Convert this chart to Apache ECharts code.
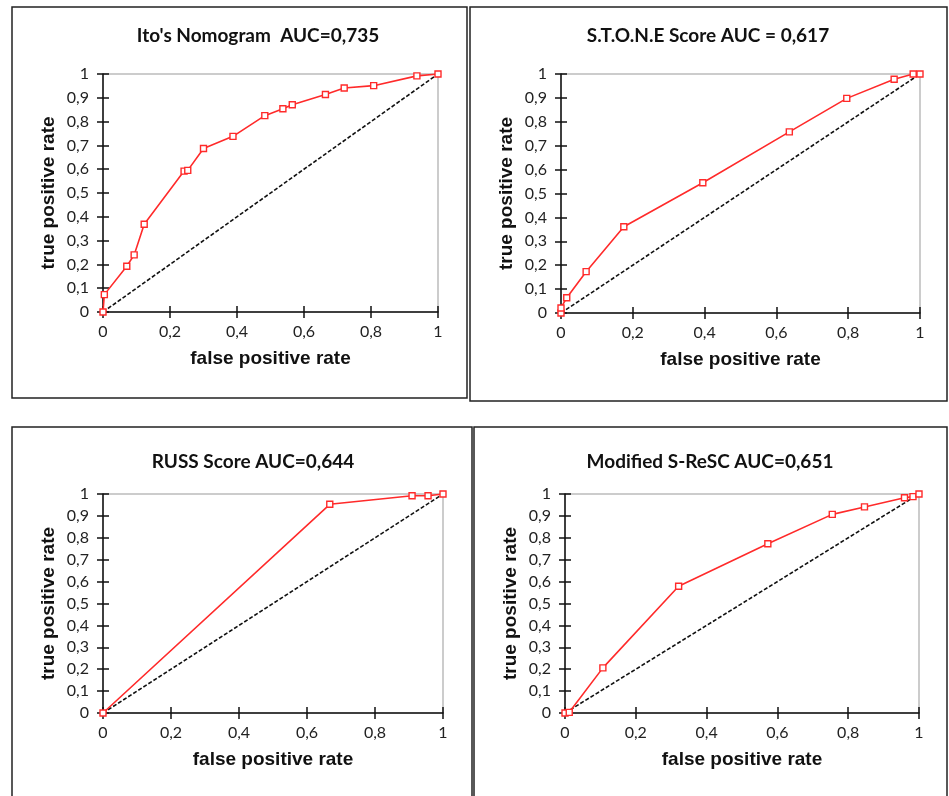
<!DOCTYPE html>
<html>
<head>
    <meta charset="utf-8">
    <title>ROC curves</title>
    <script src="https://cdnjs.cloudflare.com/ajax/libs/echarts/6.0.0/echarts.min.js"></script>
    <style>
        html, body { margin: 0; padding: 0; background: #fff; }
        #main { width: 949px; height: 796px; }
    </style>
</head>
<body>
    <div id="main"></div>
    <script type="text/javascript">
        // ROC points [false positive rate, true positive rate]
        var itoPoints = [[0, 0], [0.004, 0.073], [0.071, 0.192], [0.093, 0.240], [0.123, 0.369],
            [0.242, 0.592], [0.253, 0.595], [0.300, 0.687], [0.388, 0.738], [0.483, 0.825],
            [0.537, 0.854], [0.565, 0.871], [0.664, 0.914], [0.720, 0.941], [0.808, 0.951],
            [0.937, 0.992], [1, 1]];
        var stonePoints = [[0, 0], [0, 0.021], [0.016, 0.064], [0.070, 0.173], [0.175, 0.361],
            [0.395, 0.545], [0.636, 0.758], [0.796, 0.898], [0.928, 0.978], [0.981, 1], [1, 1]];
        var russPoints = [[0, 0], [0.667, 0.953], [0.909, 0.992], [0.956, 0.992], [1, 1]];
        var rescPoints = [[0, 0], [0.012, 0.003], [0.107, 0.206], [0.321, 0.579], [0.573, 0.773],
            [0.755, 0.907], [0.846, 0.941], [0.959, 0.983], [0.983, 0.988], [1, 1]];
        var diagonal = [[0, 0], [1, 1]];

        var titles = ["Ito's Nomogram  AUC=0,735", 'S.T.O.N.E Score AUC = 0,617',
            'RUSS Score AUC=0,644', 'Modified S-ReSC AUC=0,651'];
        var xName = 'false positive rate';
        var yName = 'true positive rate';

        var panels = [
            { data: itoPoints, grid: { left: 103, top: 74, width: 335, height: 238 }, box: [12, 7, 455, 391], title: [258, 36] },
            { data: stonePoints, grid: { left: 561, top: 74, width: 359, height: 239 }, box: [470, 7, 477, 394], title: [708, 36] },
            { data: russPoints, grid: { left: 103, top: 494, width: 340, height: 219 }, box: [12, 427, 460, 380], title: [253, 462] },
            { data: rescPoints, grid: { left: 565, top: 494, width: 354, height: 219 }, box: [474, 427, 473, 380], title: [710, 462] }
        ];

        function comma(v) {
            return String(+v.toFixed(1)).replace('.', ',');
        }

        var labelFont = { fontFamily: 'Lato', fontSize: 16, color: '#222' };
        var nameFont = { fontFamily: 'Liberation Sans', fontSize: 19, fontWeight: 'bold', color: '#111' };

        var grids = [], xAxes = [], yAxes = [], series = [], graphics = [];

        panels.forEach(function (p, i) {
            grids.push(Object.assign({ show: true, borderColor: '#999', borderWidth: 1 }, p.grid));

            // main axes (outer ticks + labels)
            xAxes.push({
                type: 'value', gridIndex: i, min: 0, max: 1, interval: 0.2,
                name: xName, nameLocation: 'middle', nameGap: 37, nameTextStyle: nameFont,
                axisLine: { lineStyle: { color: '#111', width: 1.5 } },
                axisTick: { length: 6, lineStyle: { color: '#111', width: 1.5 } },
                axisLabel: Object.assign({ margin: 12, formatter: comma }, labelFont),
                splitLine: { show: false }
            });
            yAxes.push({
                type: 'value', gridIndex: i, min: 0, max: 1, interval: 0.1,
                name: yName, nameLocation: 'middle', nameGap: 45, nameTextStyle: nameFont,
                axisLine: { lineStyle: { color: '#111', width: 1.5 } },
                axisTick: { length: 6, lineStyle: { color: '#111', width: 1.5 } },
                axisLabel: Object.assign({ margin: 14, formatter: comma }, labelFont),
                splitLine: { show: false }
            });
            series.push({
                type: 'line', xAxisIndex: i, yAxisIndex: i, data: diagonal,
                symbol: 'none', silent: true, z: 2,
                lineStyle: { color: '#111', width: 1.6, type: [4, 2] }
            });
            series.push({
                type: 'line', xAxisIndex: i, yAxisIndex: i, data: p.data,
                symbol: 'rect', symbolSize: 6, z: 3,
                lineStyle: { color: '#ff2a2a', width: 1.6 },
                itemStyle: { color: '#fff', borderColor: '#ff2a2a', borderWidth: 1.4 }
            });

            graphics.push({
                type: 'rect', shape: { x: p.box[0], y: p.box[1], width: p.box[2], height: p.box[3] },
                style: { fill: null, stroke: '#222', lineWidth: 1.5 }, silent: true
            });
            graphics.push({
                type: 'text', x: p.title[0], y: p.title[1],
                style: {
                    text: titles[i], align: 'center', verticalAlign: 'middle',
                    font: 'bold 19px Lato', fill: '#111'
                }
            });
        });

        // overlay axes for the inner half of the crossing ticks
        panels.forEach(function (p, i) {
            xAxes.push({
                type: 'value', gridIndex: i, min: 0, max: 1, interval: 0.2, position: 'bottom',
                axisLine: { show: false }, axisLabel: { show: false }, splitLine: { show: false },
                axisTick: { inside: true, length: 6, lineStyle: { color: '#111', width: 1.5 } }
            });
            yAxes.push({
                type: 'value', gridIndex: i, min: 0, max: 1, interval: 0.1, position: 'left',
                axisLine: { show: false }, axisLabel: { show: false }, splitLine: { show: false },
                axisTick: { inside: true, length: 6, lineStyle: { color: '#111', width: 1.5 } }
            });
        });

        var myChart = echarts.init(document.getElementById('main'));
        myChart.setOption({
            backgroundColor: '#fff',
            animation: false,
            grid: grids,
            xAxis: xAxes,
            yAxis: yAxes,
            series: series,
            graphic: graphics
        });
    </script>
</body>
</html>
